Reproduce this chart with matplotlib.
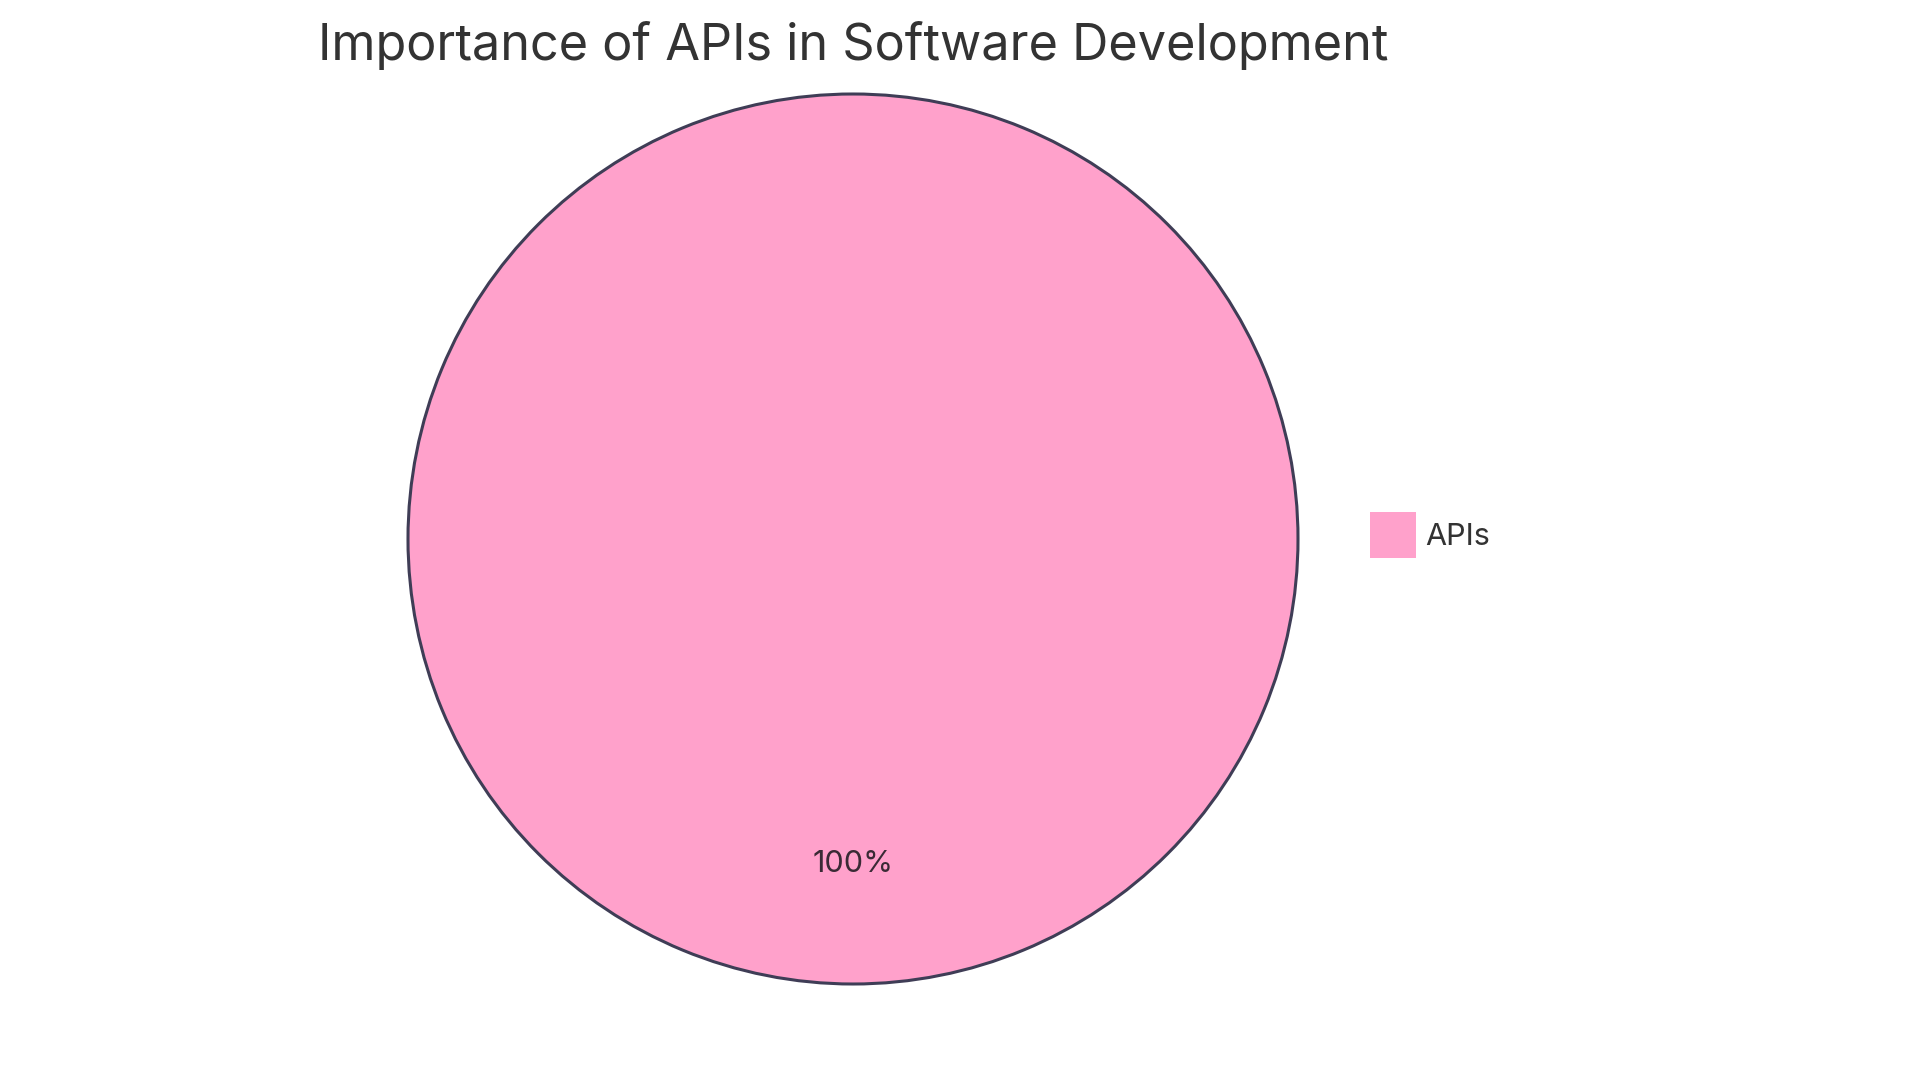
import matplotlib
matplotlib.use("Agg")
import matplotlib.pyplot as plt

# data
labels = ["APIs"]
values = [100]
colors = ["#ffa1cb"]

plt.rcParams['font.family'] = ['Inter', 'DejaVu Sans']

fig = plt.figure(figsize=(19.2, 10.8), dpi=100)

# pie centred at (853, 539) px, radius ~445 px
cx, cy, r = 853, 539, 445
ax = fig.add_axes([(cx - r) / 1920, (1080 - cy - r) / 1080, 2 * r / 1920, 2 * r / 1080])
wedges, texts, autotexts = ax.pie(values, colors=colors, startangle=90, counterclock=False,
                                  autopct='%1.0f%%', pctdistance=0.73,
                                  wedgeprops=dict(edgecolor='#3f3d56', linewidth=2.2),
                                  textprops=dict(fontsize=22, color='#3a2a35'))
ax.set_xlim(-1.0, 1.0)
ax.set_ylim(-1.0, 1.0)
ax.set_aspect('equal')
ax.axis('off')

fig.text(cx / 1920, 1 - 46 / 1080, "Importance of APIs in Software Development",
         ha='center', va='center', fontsize=36.3, color='#333333')

leg = fig.legend(wedges, labels, loc='center left',
                 bbox_to_anchor=(1370 / 1920, 1 - 535 / 1080), bbox_transform=fig.transFigure,
                 frameon=False, fontsize=22, handlelength=1.5, handleheight=1.9,
                 handletextpad=0.3, borderpad=0, borderaxespad=0)
for t in leg.get_texts():
    t.set_color('#333333')
for h in leg.legend_handles:
    h.set_edgecolor('none')

fig.savefig("out.png", dpi=100)
